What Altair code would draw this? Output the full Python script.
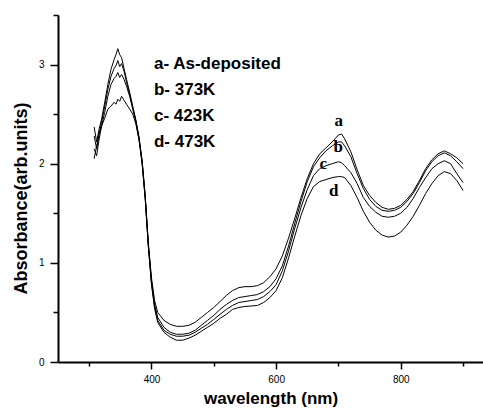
import altair as alt
import pandas as pd

wavelength = [308, 312, 316, 320, 325, 330, 335, 340, 343, 346, 349, 352, 356, 360, 365, 370,
              375, 380, 385, 390, 395, 400, 405, 410, 420, 430, 440, 450, 460, 470, 480, 490,
              500, 510, 520, 530, 540, 550, 560, 570, 580, 590, 600, 610, 620, 630, 640, 650,
              660, 670, 680, 690, 700, 705, 710, 720, 730, 740, 750, 760, 770, 780, 790, 800,
              810, 820, 830, 840, 850, 860, 870, 880, 890, 900]

abs_a = [2.37, 2.22, 2.35, 2.45, 2.62, 2.80, 2.95, 3.05, 3.10, 3.16, 3.10, 3.07, 2.96, 2.85, 2.72, 2.58,
         2.44, 2.27, 2.03, 1.68, 1.20, 0.85, 0.62, 0.50, 0.42, 0.38, 0.36, 0.36, 0.37, 0.40, 0.45, 0.50,
         0.55, 0.61, 0.67, 0.72, 0.75, 0.76, 0.76, 0.77, 0.80, 0.86, 0.94, 1.07, 1.25, 1.45, 1.66, 1.85,
         2.00, 2.10, 2.16, 2.22, 2.29, 2.30, 2.25, 2.12, 1.94, 1.78, 1.68, 1.61, 1.56, 1.54, 1.55, 1.58,
         1.64, 1.72, 1.83, 1.95, 2.04, 2.10, 2.13, 2.10, 2.06, 2.00]

abs_b = [2.28, 2.15, 2.30, 2.42, 2.58, 2.75, 2.88, 2.96, 2.99, 3.04, 2.98, 3.01, 2.93, 2.82, 2.70, 2.56,
         2.43, 2.26, 2.02, 1.66, 1.18, 0.82, 0.58, 0.45, 0.35, 0.30, 0.28, 0.28, 0.29, 0.32, 0.37, 0.42,
         0.47, 0.53, 0.58, 0.62, 0.65, 0.66, 0.67, 0.68, 0.71, 0.76, 0.84, 0.97, 1.17, 1.40, 1.62, 1.82,
         1.97, 2.06, 2.13, 2.18, 2.22, 2.22, 2.18, 2.07, 1.90, 1.75, 1.64, 1.57, 1.53, 1.52, 1.53, 1.56,
         1.62, 1.70, 1.81, 1.93, 2.02, 2.08, 2.11, 2.08, 2.02, 1.95]

abs_c = [2.15, 2.08, 2.25, 2.38, 2.52, 2.68, 2.80, 2.86, 2.88, 2.92, 2.87, 2.90, 2.85, 2.78, 2.68, 2.55,
         2.42, 2.25, 2.01, 1.65, 1.17, 0.80, 0.56, 0.42, 0.32, 0.28, 0.26, 0.26, 0.27, 0.30, 0.34, 0.38,
         0.43, 0.48, 0.53, 0.57, 0.60, 0.61, 0.62, 0.63, 0.66, 0.71, 0.78, 0.92, 1.12, 1.35, 1.56, 1.74,
         1.88, 1.95, 1.98, 2.00, 2.02, 2.01, 1.98, 1.91, 1.80, 1.66, 1.57, 1.51, 1.47, 1.46, 1.47, 1.50,
         1.56, 1.65, 1.76, 1.86, 1.95, 2.00, 2.03, 2.00, 1.90, 1.81]

abs_d = [2.05, 2.18, 2.30, 2.38, 2.46, 2.55, 2.58, 2.62, 2.60, 2.65, 2.63, 2.68, 2.64, 2.60, 2.55, 2.50,
         2.40, 2.24, 2.00, 1.64, 1.16, 0.78, 0.54, 0.40, 0.30, 0.25, 0.22, 0.22, 0.24, 0.27, 0.31, 0.35,
         0.39, 0.44, 0.48, 0.53, 0.55, 0.56, 0.565, 0.57, 0.60, 0.65, 0.72, 0.85, 1.05, 1.27, 1.48, 1.65,
         1.77, 1.82, 1.84, 1.86, 1.87, 1.87, 1.86, 1.78, 1.66, 1.52, 1.41, 1.33, 1.28, 1.26, 1.27, 1.31,
         1.38, 1.47, 1.58, 1.70, 1.80, 1.88, 1.92, 1.90, 1.83, 1.73]

series_names = ["a", "b", "c", "d"]

legend_lines = ["a- As-deposited", "b- 373K", "c- 423K", "d- 473K"]
legend_x = [404, 404, 404, 404]
legend_y = [3.01, 2.745, 2.48, 2.22]

label_text = ["a", "b", "c", "d"]
label_x = [700.5, 699.5, 675.5, 692.5]
label_y = [2.43, 2.165, 1.995, 1.725]

rows = []
for name, vals in zip(series_names, [abs_a, abs_b, abs_c, abs_d]):
    for w, v in zip(wavelength, vals):
        rows.append({"series": name, "wavelength": w, "absorbance": v})
df = pd.DataFrame(rows)

legend_df = pd.DataFrame({"text": legend_lines, "x": legend_x, "y": legend_y})
label_df = pd.DataFrame({"text": label_text, "x": label_x, "y": label_y})

xscale = alt.Scale(domain=[250, 932], nice=False, zero=False)
yscale = alt.Scale(domain=[0, 3.5], nice=False)

x_axis = alt.Axis(
    title="wavelength (nm)",
    values=[300, 400, 500, 600, 700, 800, 900],
    labelExpr="datum.value % 200 == 0 ? datum.label : ''",
    tickSize=alt.condition("datum.value % 200 == 0", alt.value(7), alt.value(4)),
    labelFont="Liberation Sans", labelFontSize=10, labelPadding=5,
    titleFont="Liberation Sans", titleFontSize=17, titleFontWeight="bold", titlePadding=6,
    grid=False,
)
y_axis = alt.Axis(
    title="Absorbance(arb.units)",
    values=[0, 0.5, 1, 1.5, 2, 2.5, 3, 3.5],
    labelExpr="datum.value % 1 == 0 ? format(datum.value, 'd') : ''",
    tickSize=alt.condition("datum.value % 1 == 0", alt.value(8), alt.value(5)),
    labelFont="Liberation Sans", labelFontSize=10, labelPadding=6,
    titleFont="Liberation Sans", titleFontSize=18, titleFontWeight="bold",
    titleX=-28, titleY=183, titleBaseline="bottom",
    grid=False,
)

lines = alt.Chart(df).mark_line(color="black", strokeWidth=1, clip=True).encode(
    x=alt.X("wavelength:Q", scale=xscale, axis=x_axis),
    y=alt.Y("absorbance:Q", scale=yscale, axis=y_axis),
    detail="series:N",
)

legend = alt.Chart(legend_df).mark_text(
    align="left", baseline="middle", font="Liberation Sans", fontSize=17,
    fontWeight="bold", color="black"
).encode(
    x=alt.X("x:Q", scale=xscale),
    y=alt.Y("y:Q", scale=yscale),
    text="text:N",
)

labels = alt.Chart(label_df).mark_text(
    align="center", baseline="middle", font="Liberation Serif", fontSize=17,
    fontWeight="bold", color="black"
).encode(
    x=alt.X("x:Q", scale=xscale),
    y=alt.Y("y:Q", scale=yscale),
    text="text:N",
)

chart = alt.layer(lines, legend, labels).properties(
    width=425, height=347,
    autosize=alt.AutoSizeParams(type="none"),
    padding={"left": 58, "top": 15, "right": 0, "bottom": 55},
    background="white",
).configure_view(stroke=None).configure_axis(
    domainColor="black", domainWidth=2, tickColor="black", tickWidth=1.5,
    labelColor="black", titleColor="black",
)

chart.save("out.html", embed_options={"renderer": "svg", "actions": False})
